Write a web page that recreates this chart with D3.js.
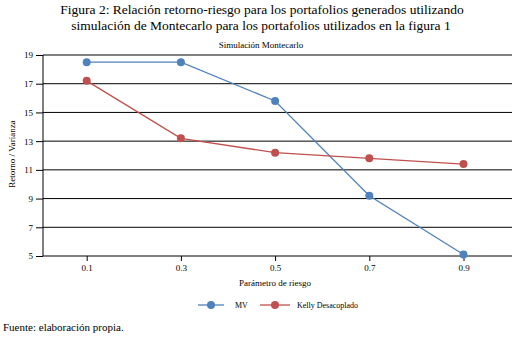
<!DOCTYPE html>
<html><head><meta charset="utf-8">
<script src="https://cdn.jsdelivr.net/npm/d3@7"></script>
<style>body{margin:0;background:#fff}svg{display:block}</style>
</head><body>
<svg id="c" width="518" height="339"></svg>
<script>
const categories = [0.1, 0.3, 0.5, 0.7, 0.9];
const mvValues = [18.5, 18.5, 15.8, 9.2, 5.1];
const kellyValues = [17.2, 13.2, 12.2, 11.8, 11.4];
const yTicks = [5, 7, 9, 11, 13, 15, 17, 19];
const seriesNames = ["MV", "Kelly Desacoplado"];
const seriesColors = ["#4f81bd", "#c0504d"];

const svg = d3.select("#c");
const font = "'Liberation Serif','Times New Roman',serif";
const L = 43, R = 512, T = 55, B = 256;
const x = d3.scaleLinear().domain([0, 1]).range([39.6, 510.6]);
const y = d3.scaleLinear().domain([5, 19]).range([B, T]);

// title
svg.append("text").attr("x", 262).attr("y", 14).attr("text-anchor", "middle")
  .attr("font-family", font).attr("font-size", 13.5).text("Figura 2: Relación retorno-riesgo para los portafolios generados utilizando");
svg.append("text").attr("x", 261).attr("y", 30).attr("text-anchor", "middle")
  .attr("font-family", font).attr("font-size", 13.5).text("simulación de Montecarlo para los portafolios utilizados en la figura 1");
svg.append("text").attr("x", 261).attr("y", 48).attr("text-anchor", "middle")
  .attr("font-family", font).attr("font-size", 9).text("Simulación Montecarlo");

// grid + y axis
const ya = svg.append("g").attr("transform", `translate(${L},0)`)
  .call(d3.axisLeft(y).tickValues(yTicks).tickSize(7).tickFormat(d3.format("d")));
ya.select(".domain").remove();
ya.selectAll(".tick line").attr("stroke", "#000");
ya.selectAll(".tick text").attr("font-family", font).attr("font-size", 9).attr("fill", "#000").attr("x", -10);
svg.append("g").selectAll("line").data(yTicks).join("line")
  .attr("x1", L).attr("x2", R).attr("y1", d => y(d)).attr("y2", d => y(d))
  .attr("stroke", "#000").attr("stroke-width", 1);
svg.append("line").attr("x1", L).attr("x2", L).attr("y1", T).attr("y2", B).attr("stroke", "#000");

// x axis
const xa = svg.append("g").attr("transform", `translate(0,${B})`)
  .call(d3.axisBottom(x).tickValues(categories).tickSize(5).tickFormat(d3.format(".1f")));
xa.select(".domain").remove();
xa.selectAll(".tick line").attr("stroke", "#000");
xa.selectAll(".tick text").attr("font-family", font).attr("font-size", 9).attr("fill", "#000").attr("y", 9);

svg.append("text").attr("x", 275).attr("y", 286).attr("text-anchor", "middle")
  .attr("font-family", font).attr("font-size", 9).text("Parámetro de riesgo");
svg.append("text").attr("transform", "translate(15,154) rotate(-90)").attr("text-anchor", "middle")
  .attr("font-family", font).attr("font-size", 9).text("Retorno / Varianza");

// series
const data = [mvValues, kellyValues];
const line = d3.line().x((d, i) => x(categories[i])).y(d => y(d));
data.forEach((vals, s) => {
  svg.append("path").datum(vals).attr("d", line).attr("fill", "none")
    .attr("stroke", seriesColors[s]).attr("stroke-width", 1.3);
  svg.append("g").selectAll("circle").data(vals).join("circle")
    .attr("cx", (d, i) => x(categories[i])).attr("cy", d => y(d)).attr("r", 4)
    .attr("fill", seriesColors[s]);
});

// legend
const legX = [198, 260], legW = [26, 30], legTx = [235, 297];
seriesNames.forEach((n, s) => {
  svg.append("line").attr("x1", legX[s]).attr("x2", legX[s] + legW[s]).attr("y1", 305).attr("y2", 305)
    .attr("stroke", seriesColors[s]).attr("stroke-width", 1.3);
  svg.append("circle").attr("cx", legX[s] + legW[s] / 2).attr("cy", 305).attr("r", 4).attr("fill", seriesColors[s]);
  svg.append("text").attr("x", legTx[s]).attr("y", 308).attr("font-family", font).attr("font-size", 8).text(n);
});

svg.append("text").attr("x", 3).attr("y", 331).attr("font-family", font).attr("font-size", 11).text("Fuente: elaboración propia.");
</script>
</body></html>
